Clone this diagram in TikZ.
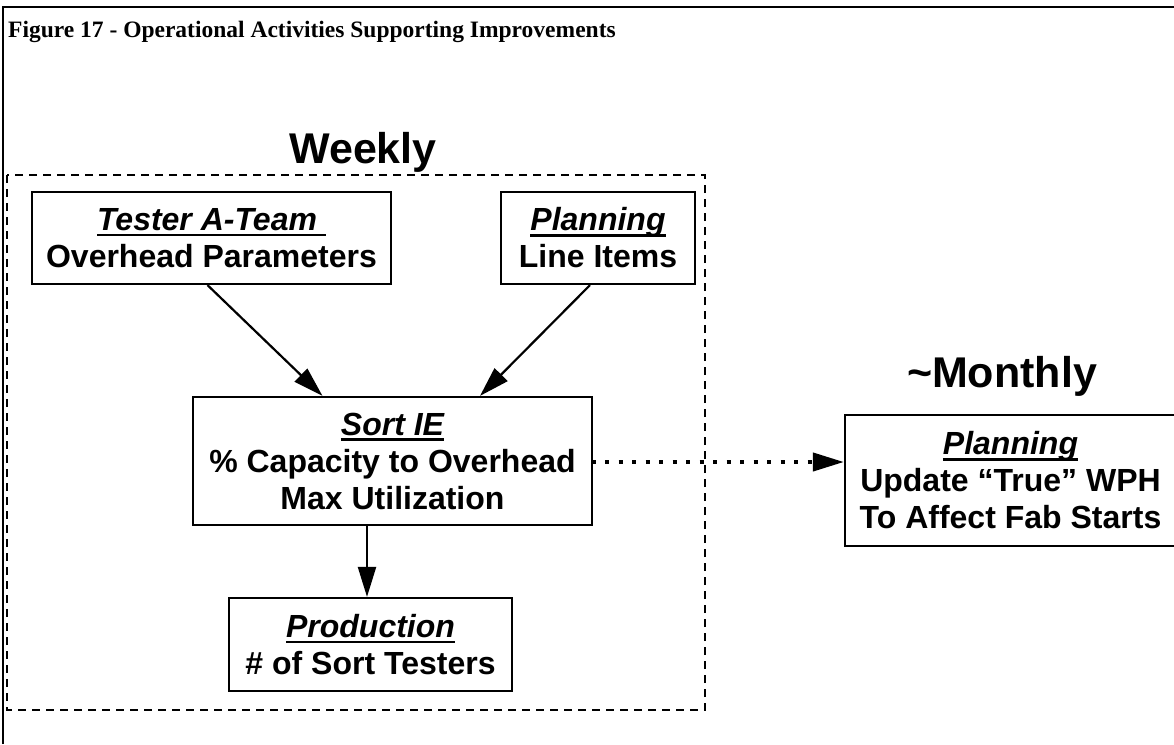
\documentclass[tikz,border=0pt]{standalone}
\usepackage{fontspec}
\setmainfont{Liberation Serif}
\setsansfont{Liberation Sans}
\usetikzlibrary{arrows.meta,calc}
\newcommand\myuline[1]{\setbox0\hbox{#1}\leavevmode\rlap{\rule[-6pt]{\wd0}{2.6pt}}\box0}
\begin{document}
\begin{tikzpicture}[x=1pt,y=-1pt,
  boxnode/.style={draw, line width=2.2pt, inner sep=0pt, align=center,
    font=\sffamily\bfseries\fontsize{32}{37}\selectfont},
  heading/.style={inner sep=0pt, anchor=base,
    font=\sffamily\bfseries\fontsize{43}{50}\selectfont},
  arr/.style={line width=2.2pt, -{Triangle[length=30pt,width=18pt]}},
  dotarr/.style={line width=4pt, dash pattern=on 4pt off 9.5pt, dash phase=-12pt,
    -{Triangle[length=31pt,width=18pt]}},
  frameline/.style={line width=2.4pt},
  weekframe/.style={line width=1.2pt, dash pattern=on 8pt off 6pt}]
\useasboundingbox (0,0) rectangle (1174,744);
% outer frame (only top and left visible)
\draw[frameline] (3,744) -- (3,7) -- (1180,7);
% title
\node[inner sep=0pt, anchor=base west,
  font=\rmfamily\bfseries\fontsize{23.5}{28}\selectfont] (title) at (8,37)
  {Figure 17 - Operational Activities Supporting Improvements};
% weekly group
\node[heading] (weekly) at (363,163) {Weekly};
\draw[weekframe] (7,175) rectangle (705,710);
\node[boxnode, minimum width=359pt, minimum height=92pt] (tester) at (211.5,238)
  {\myuline{\itshape Tester A-Team\ }\\Overhead Parameters};
\node[boxnode, minimum width=194pt, minimum height=92pt] (planl) at (598,238)
  {\myuline{\itshape Planning}\\Line Items};
\node[boxnode, minimum width=399pt, minimum height=128pt] (sort) at (392.5,461)
  {\myuline{\itshape Sort IE}\\\% Capacity to Overhead\\Max Utilization};
\node[boxnode, minimum width=283pt, minimum height=93pt] (prod) at (370.5,644.5)
  {\myuline{\itshape Production}\\\# of Sort Testers};
% monthly
\node[heading] (monthly) at (1002,387) {\textasciitilde Monthly};
\node[boxnode, minimum width=331pt, minimum height=131pt] (mon) at (1010.5,480.5)
  {\myuline{\itshape Planning}\\Update “True” WPH\\To Affect Fab Starts};
% connectors
\coordinate (dotstart) at ($(sort.east)+(0,1)$);
\draw[arr] ([xshift=-4pt]tester.south) -- ([xshift=-70pt]sort.north);
\draw[arr] ([xshift=-8pt]planl.south) -- ([xshift=87.5pt]sort.north);
\draw[arr] ([xshift=-25.5pt]sort.south) -- ([xshift=-3.5pt]prod.north);
\draw[dotarr] (dotstart) -- (mon.west |- dotstart);
\end{tikzpicture}
\end{document}
